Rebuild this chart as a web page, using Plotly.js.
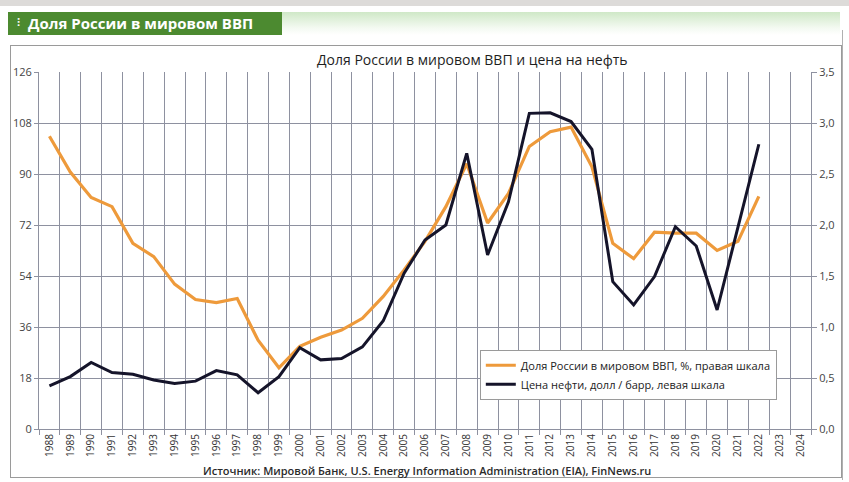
<!DOCTYPE html>
<html>
<head>
<meta charset="utf-8">
<script src="https://cdn.plot.ly/plotly-3.0.1.min.js"></script>
<style>
  html, body { margin:0; padding:0; background:#ffffff; width:849px; height:482px; overflow:hidden; position:relative; font-family:"Open Sans", "Noto Sans", sans-serif; }
  #topband { position:absolute; left:0; top:0; width:849px; height:6px; background:#dddbd9; }
  #header { position:absolute; left:8px; top:12px; width:274px; height:23px; background:#4c8a30; color:#fff; font-weight:bold; font-size:15px; line-height:23px; padding-left:9px; box-sizing:border-box; white-space:nowrap; }
  #header .dots { font-size:11px; margin-right:8px; position:relative; top:-3px; }
  #strip { position:absolute; left:282px; top:12px; width:558px; height:23px; background:linear-gradient(to bottom, #cfe8c7, #f4faf2 70%, #ffffff); }
  #box { position:absolute; left:10px; top:45px; width:832px; height:433px; border:1px solid #9a9a9a; box-sizing:border-box; }
  #rightbar { position:absolute; left:842px; top:30px; width:1px; height:450px; background:#b0b0b0; }
  #chart { position:absolute; left:0; top:0; width:849px; height:482px; }
</style>
</head>
<body>
<div id="topband"></div>
<div id="header"><span class="dots">⁝</span>Доля России в мировом ВВП</div>
<div id="strip"></div>
<div id="box"></div>
<div id="rightbar"></div>
<div id="chart"></div>
<script>
// Categories (years on the x axis, including empty 2023-2024)
const allYears = ["1988","1989","1990","1991","1992","1993","1994","1995","1996","1997","1998","1999","2000","2001","2002","2003","2004","2005","2006","2007","2008","2009","2010","2011","2012","2013","2014","2015","2016","2017","2018","2019","2020","2021","2022","2023","2024"];
const dataYears = ["1988","1989","1990","1991","1992","1993","1994","1995","1996","1997","1998","1999","2000","2001","2002","2003","2004","2005","2006","2007","2008","2009","2010","2011","2012","2013","2014","2015","2016","2017","2018","2019","2020","2021","2022"];

// Russia's share of world GDP, % (right scale)
const gdpShare = [2.87,2.52,2.27,2.18,1.82,1.69,1.42,1.27,1.24,1.28,0.87,0.60,0.81,0.90,0.97,1.085,1.30,1.56,1.84,2.18,2.60,2.02,2.31,2.77,2.915,2.96,2.57,1.82,1.67,1.93,1.92,1.92,1.75,1.84,2.28];

// Oil price, USD / barrel (left scale)
const oilPrice = [15.2,18.5,23.5,19.9,19.3,17.3,16.1,16.9,20.6,19.1,12.8,18.5,28.7,24.4,24.9,29.0,38.2,55.0,66.7,72.0,97.3,61.4,80.2,111.4,111.6,108.5,98.7,52.0,43.8,53.8,71.4,64.6,42.0,71.4,100.5];

// Tick labels
const leftTicks = [0,18,36,54,72,90,108,126];
const rightTicks = [0,0.5,1,1.5,2,2.5,3,3.5];

const seriesNames = ["Доля России в мировом ВВП, %, правая шкала", "Цена нефти, долл / барр, левая шкала"];
const chartTitle = "Доля России в мировом ВВП и цена на нефть";
const sourceText = "Источник: Мировой Банк, U.S. Energy Information Administration (EIA), FinNews.ru";

const gridCol = "#8e91a0";
const fontFam = "Open Sans, Noto Sans, sans-serif";

const traces = [
  { x: dataYears, y: gdpShare, name: seriesNames[0], type: "scatter", mode: "lines",
    line: { color: "#ee9a3b", width: 3.2 }, yaxis: "y" },
  { x: dataYears, y: oilPrice, name: seriesNames[1], type: "scatter", mode: "lines",
    line: { color: "#15142a", width: 3 }, yaxis: "y2" }
];

const layout = {
  width: 849, height: 482,
  margin: { l: 39, r: 38, t: 72, b: 53 },
  paper_bgcolor: "rgba(0,0,0,0)", plot_bgcolor: "rgba(0,0,0,0)",
  separators: ", ",
  showlegend: true,
  font: { family: fontFam, color: "#333", size: 11 },
  xaxis: {
    type: "category", categoryorder: "array", categoryarray: allYears,
    tickson: "boundaries", ticks: "outside", ticklen: 5, tickcolor: gridCol, tickwidth: 1,
    showgrid: true, gridcolor: gridCol, gridwidth: 1,
    showline: true, linecolor: gridCol, linewidth: 1, mirror: false,
    tickangle: -90, tickfont: { size: 10, color: "#333", family: fontFam },
    range: [-0.5, 36.5], fixedrange: true
  },
  yaxis: {
    side: "right", range: [0, 3.5], tickvals: rightTicks, tickformat: ".1f",
    ticks: "outside", ticklen: 5, tickcolor: gridCol,
    showgrid: true, gridcolor: gridCol, gridwidth: 1,
    showline: true, linecolor: gridCol, zeroline: false,
    tickfont: { size: 11, color: "#444", family: fontFam }, fixedrange: true
  },
  yaxis2: {
    side: "left", overlaying: "y", range: [0, 126], tickvals: leftTicks,
    ticks: "outside", ticklen: 4, tickcolor: gridCol,
    showgrid: false, showline: true, linecolor: gridCol, zeroline: false,
    tickfont: { size: 11, color: "#444", family: fontFam }, fixedrange: true
  },
  legend: {
    x: 0.571, y: 0.222, xanchor: "left", yanchor: "top",
    bgcolor: "#ffffff", bordercolor: "#9a9a9a", borderwidth: 1,
    font: { size: 11, color: "#222", family: fontFam },
    tracegroupgap: 0, itemwidth: 30
  },
  annotations: [
    { text: chartTitle, xref: "paper", yref: "paper", x: (472-39)/772, y: 1, yshift: 13,
      xanchor: "center", yanchor: "middle", showarrow: false,
      font: { size: 14, color: "#1e1e1e", family: fontFam } },
    { text: sourceText, xref: "paper", yref: "paper", x: (427-39)/772, y: 0, yshift: -41,
      xanchor: "center", yanchor: "middle", showarrow: false,
      font: { size: 11, color: "#2a2a2a", family: fontFam, weight: 600 } }
  ]
};

Plotly.newPlot("chart", traces, layout, { displayModeBar: false, staticPlot: true });
</script>
</body>
</html>
